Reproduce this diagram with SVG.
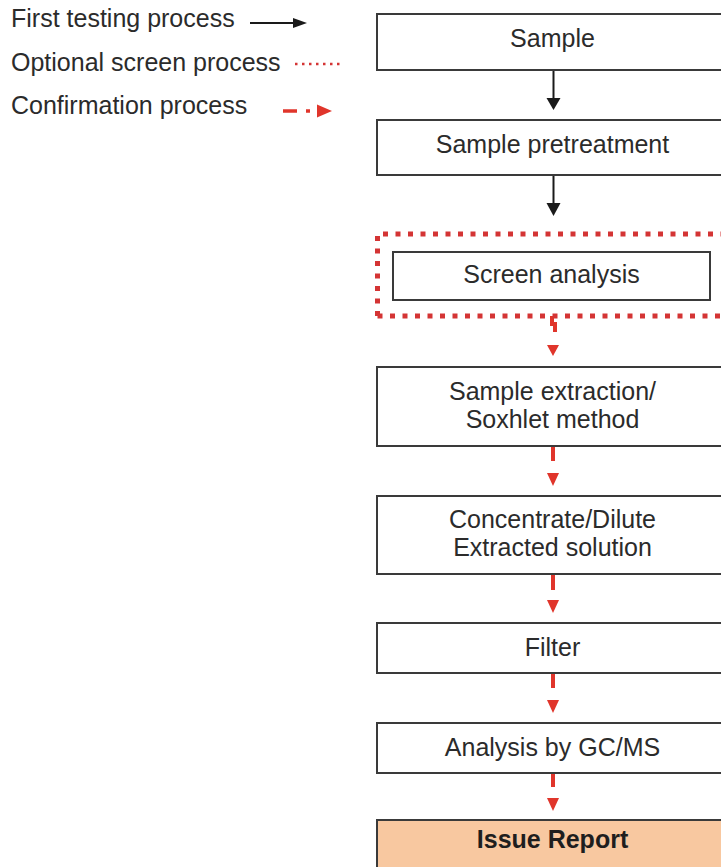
<svg xmlns="http://www.w3.org/2000/svg" width="721" height="867" viewBox="0 0 721 867">
<style>
  .box { fill: #ffffff; stroke: #3a3a3a; stroke-width: 2; }
  .report { fill: #f8c8a0; stroke: #3a3a3a; stroke-width: 2; }
  .t { font-family: "Liberation Sans", Arial, sans-serif; font-size: 25px; fill: #2b2b2b; text-anchor: middle; }
  .tb { font-weight: bold; fill: #1e1e1e; }
  .lg { font-family: "Liberation Sans", Arial, sans-serif; font-size: 25px; fill: #2b2b2b; }
  .blk { stroke: #1a1a1a; stroke-width: 2; fill: none; }
  .red { stroke: #e0352b; stroke-width: 4; fill: none; }
  .redhead { fill: #e0352b; }
  .blkhead { fill: #1a1a1a; }
  .dotted { fill: none; stroke: #d43434; stroke-width: 5; stroke-dasharray: 5 7.5; }
</style>
<rect width="721" height="867" fill="#ffffff"/>

<g id="legend">
  <text class="lg" x="11" y="27">First testing process</text>
  <line class="blk" x1="250" y1="23" x2="296" y2="23"/>
  <polygon class="blkhead" points="293,18 307,23 293,28"/>
  <text class="lg" x="11" y="71">Optional screen process</text>
  <line x1="295" y1="64" x2="343" y2="64" stroke="#d43434" stroke-width="2.5" stroke-dasharray="2.5 4.5"/>
  <text class="lg" x="11" y="114">Confirmation process</text>
  <line x1="283" y1="111" x2="297" y2="111" stroke="#e0352b" stroke-width="3.5"/>
  <line x1="306" y1="111" x2="310" y2="111" stroke="#e0352b" stroke-width="3.5"/>
  <polygon class="redhead" points="317,104.5 332,111 317,117.5"/>
</g>

<g id="connectors">
  <line class="blk" x1="553.5" y1="70" x2="553.5" y2="99"/>
  <polygon class="blkhead" points="546.5,98 560.5,98 553.5,110"/>
  <line class="blk" x1="553.5" y1="175" x2="553.5" y2="204"/>
  <polygon class="blkhead" points="546.5,203 560.5,203 553.5,216"/>

  <path class="red" d="M552 316 V324 H555 V332"/>
  <polygon class="redhead" points="547,345 559,345 553,356"/>

  <line class="red" x1="553" y1="446" x2="553" y2="461"/>
  <polygon class="redhead" points="547,473 559,473 553,486"/>

  <line class="red" x1="553" y1="574" x2="553" y2="590"/>
  <polygon class="redhead" points="547,600 559,600 553,613"/>

  <line class="red" x1="553" y1="673" x2="553" y2="688"/>
  <polygon class="redhead" points="547,700 559,700 553,713"/>

  <line class="red" x1="553" y1="773" x2="553" y2="787"/>
  <polygon class="redhead" points="547,798 559,798 553,811"/>
</g>

<g id="sample">
  <rect class="box" x="377" y="14" width="352" height="56"/>
  <text class="t" x="552.5" y="47">Sample</text>
</g>

<g id="pretreatment">
  <rect class="box" x="377" y="120" width="352" height="55"/>
  <text class="t" x="552.5" y="153">Sample pretreatment</text>
</g>

<g id="screen-group">
  <path class="dotted" d="M377.5 316 V234 H735 M377.5 316 H735"/>
</g>

<g id="screen-analysis">
  <rect class="box" x="393" y="252" width="317" height="48"/>
  <text class="t" x="551.5" y="283">Screen analysis</text>
</g>

<g id="extraction">
  <rect class="box" x="377" y="367" width="352" height="79"/>
  <text class="t" x="552.5" y="400">Sample extraction/</text>
  <text class="t" x="552.5" y="428">Soxhlet method</text>
</g>

<g id="concentrate">
  <rect class="box" x="377" y="496" width="352" height="78"/>
  <text class="t" x="552.5" y="528">Concentrate/Dilute</text>
  <text class="t" x="552.5" y="556">Extracted solution</text>
</g>

<g id="filter">
  <rect class="box" x="377" y="623" width="352" height="50"/>
  <text class="t" x="552.5" y="656">Filter</text>
</g>

<g id="gcms">
  <rect class="box" x="377" y="723" width="352" height="50"/>
  <text class="t" x="552.5" y="756">Analysis by GC/MS</text>
</g>

<g id="issue-report">
  <rect class="report" x="377" y="820" width="352" height="60"/>
  <text class="t tb" x="552.5" y="848">Issue Report</text>
</g>
</svg>
